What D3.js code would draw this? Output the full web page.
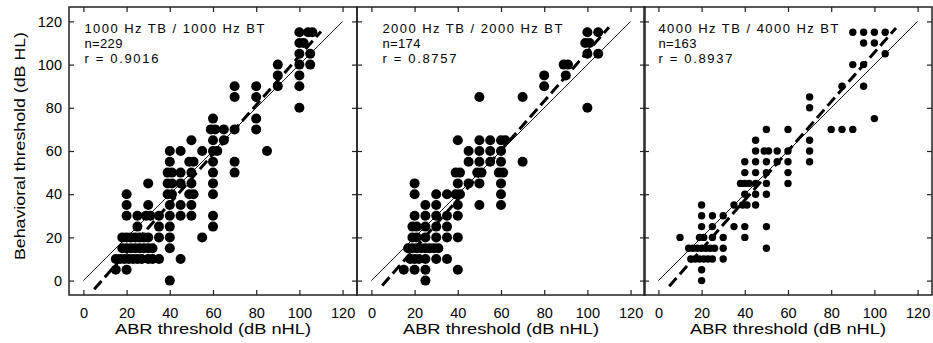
<!DOCTYPE html>
<html><head><meta charset="utf-8">
<script src="https://cdn.jsdelivr.net/npm/d3@7"></script>
<style>
body{margin:0;background:#fff}
svg{display:block}
text{font-family:"Liberation Sans",Arial,Helvetica,sans-serif;fill:#000}
</style>
</head><body>
<svg id="c" width="933" height="343"></svg>
<script>
// ---------- data ----------
const tickValues = [0, 20, 40, 60, 80, 100, 120];
const panelTitles = ["1000 Hz TB / 1000 Hz BT", "2000 Hz TB / 2000 Hz BT", "4000 Hz TB / 4000 Hz BT"];
const nLabels = ["n=229", "n=174", "n=163"];
const rLabels = ["r = 0.9016", "r = 0.8757", "r = 0.8937"];
const fitSlopes = [1.137, 1.139, 1.139];
const fitIntercepts = [-9.7, -8.0, -8.3];
const fitRange = [5, 110];
const identityRange = [0, 120];
const xTitle = "ABR threshold (dB nHL)";
const yTitle = "Behavioral threshold (dB HL)";

// Panel 1: 1000 Hz
const p1x = [100,104,106,100,102,100,105,100,105,100,100,100,90,90,90,80,80,80,80,85,70,70,70,70,70,65,65,60,59,61,60,60,62,60,60,60,60,60,60,55,55,50,49,51,50,50,49,51,50,50,45,45,45,45,45,45,40,40,39,41,39,41,39,41,40,40,40,40,40,40,35,35,35,35,30,30,29,31,30,30,30,25,25,20,20,20,15,20,
  18,20,22,24,26,28, 18,20,22,24,26,28,32, 15,17,19,21,23,25,27,32];
const p1y = [115,115,115,110,110,105,105,100,100,95,90,80,100,95,90,90,85,75,70,60,90,85,70,55,50,70,65,75,70,70,65,60,60,55,50,45,40,30,25,60,20,65,55,55,50,45,40,40,35,30,60,50,45,35,30,10,60,55,50,50,45,45,40,40,35,30,25,20,15,0,30,25,20,10,45,35,30,30,20,15,10,30,25,40,35,30,5,5,
  20,20,20,20,20,20, 15,15,15,15,15,15,15, 10,10,10,10,10,10,10,10];

// Panel 2: 2000 Hz
const p2x = [100,105,99,101,100,105,89,91,90,80,80,100,50,70,70,40,50,55,60,62,45,50,55,60,45,50,55,60,39,41,49,51,59,61,20,40,45,50,60,20,30,35,39,41,60,25,30,40,50,60,20,25,30,35,40,19,21,25,30,35,19,21,25,30,35,40,
  17,19,21,23,25,27,29,31, 18,20,22,25,30,35, 15,20,25,40,25];
const p2y = [115,115,110,110,105,105,100,100,95,95,90,80,85,85,55,65,65,65,65,65,60,60,60,60,55,55,55,55,50,50,50,50,50,50,45,45,45,45,45,40,40,40,40,40,40,35,35,35,35,35,30,30,30,30,30,25,25,25,25,25,20,20,20,20,20,20,
  15,15,15,15,15,15,15,15, 10,10,10,10,10,10, 5,5,5,5,0];

// Panel 3: 4000 Hz
const p3x = [90,95,100,105,95,100,105,90,95,85,95,70,70,100,80,85,90,70,70,70,50,60,45,45,49,51,55,60,40,45,50,55,60,40,45,50,60,38,40,42,45,50,60,40,45,50,20,35,39,41,45,20,25,30,20,25,35,40,50,10,19,21,25,30,40,
  14,16,18,20,22,24,26,30,50, 15,17,19,21,23,25,30, 20,20];
const p3y = [115,115,115,115,110,110,105,100,100,90,90,85,80,75,70,70,70,65,60,55,70,70,65,60,60,60,60,60,55,55,55,55,55,50,50,50,50,45,45,45,45,45,45,40,40,40,35,35,35,35,35,30,30,30,25,25,25,25,25,20,20,20,20,20,20,
  15,15,15,15,15,15,15,15,15, 10,10,10,10,10,10,10, 5,0];

const panelX = [p1x, p2x, p3x];
const panelY = [p1y, p2y, p3y];

// ---------- layout ----------
const panelLeft = [69, 357, 644];
const panelW = 288, plotTop = 7, plotBottom = 295;
const dom = [-6.67, 126.67];
const dotR = [5, 5, 3.7];
const textShift = [1, 11, 0];

const svg = d3.select("#c");

panelTitles.forEach((title, i) => {
  const L = panelLeft[i];
  const x = d3.scaleLinear().domain(dom).range([L, L + panelW]);
  const y = d3.scaleLinear().domain(dom).range([plotBottom, plotTop]);
  const g = svg.append("g");

  const pts = panelX[i].map((v, k) => ({x: v, y: panelY[i][k]}));
  g.append("g").selectAll("circle").data(pts).join("circle")
    .attr("cx", d => x(d.x)).attr("cy", d => y(d.y)).attr("r", dotR[i]).attr("fill", "#000");

  // identity line
  const line = d3.line().x(d => x(d[0])).y(d => y(d[1]));
  g.append("path").datum(identityRange.map(v => [v, v]))
    .attr("d", line).attr("stroke", "#000").attr("stroke-width", 0.9).attr("fill", "none");
  // regression line
  g.append("path").datum(fitRange.map(v => [v, fitIntercepts[i] + fitSlopes[i] * v]))
    .attr("d", line).attr("stroke", "#000").attr("stroke-width", 3)
    .attr("stroke-dasharray", "11,5").attr("fill", "none");

  // frame
  g.append("rect").attr("x", L).attr("y", plotTop).attr("width", panelW).attr("height", plotBottom - plotTop)
    .attr("fill", "none").attr("stroke", "#222").attr("stroke-width", 1.5);

  // axes
  const ax = g.append("g").attr("transform", `translate(0,${plotBottom})`)
    .call(d3.axisBottom(x).tickValues(tickValues).tickSize(-5).tickPadding(13));
  const ay = g.append("g").attr("transform", `translate(${L},0)`)
    .call(d3.axisLeft(y).tickValues(tickValues).tickSize(-5).tickPadding(7).tickFormat(i === 0 ? d3.format("d") : () => ""));
  const at = g.append("g").attr("transform", `translate(0,${plotTop})`)
    .call(d3.axisTop(x).tickValues(tickValues).tickSize(-5).tickFormat(() => ""));
  const ar = g.append("g").attr("transform", `translate(${L + panelW},0)`)
    .call(d3.axisRight(y).tickValues(tickValues).tickSize(-5).tickFormat(() => ""));
  [ax, ay, at, ar].forEach(a => {
    a.select(".domain").remove();
    a.selectAll(".tick line").attr("stroke", "#222").attr("stroke-width", 1.2);
    a.selectAll("text").style("font-size", "14.5px").attr("fill", "#000");
  });

  // x title
  g.append("text").attr("x", L + 144).attr("y", 334).attr("text-anchor", "middle")
    .style("font-size", "15px").attr("textLength", 196).attr("lengthAdjust", "spacingAndGlyphs").text(xTitle);

  // annotation
  const tx = x(0) + textShift[i];
  [[title, 33, 180], [nLabels[i], 48, 38], [rLabels[i], 63, 74]].forEach(([s, yy, len]) => {
    g.append("text").attr("x", tx).attr("y", yy).style("font-size", "13px")
      .attr("textLength", len).attr("lengthAdjust", "spacing").text(s);
  });
});

svg.append("text").attr("transform", "translate(24.5,146) rotate(-90)").attr("text-anchor", "middle")
  .style("font-size", "15px").attr("textLength", 228).attr("lengthAdjust", "spacingAndGlyphs").text(yTitle);
</script>
</body></html>
